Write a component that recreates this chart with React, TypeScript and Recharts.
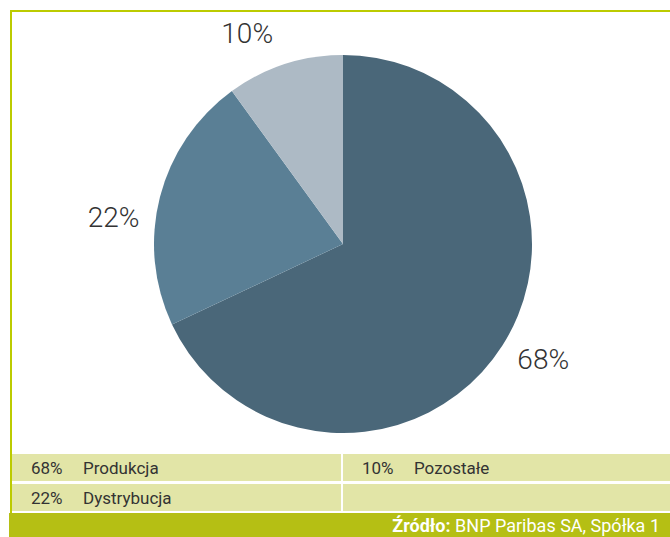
import { PieChart, Pie, Cell } from 'recharts';

const categories = ['Produkcja', 'Dystrybucja', 'Pozostałe'];
const shares = [68, 22, 10];
const sliceColors = ['#4a6779', '#5a7f95', '#adbac5'];

const data = categories.map((name, i) => ({ name, value: shares[i] }));

// angular nudges so labels sit where the original placed them
const labelNudge = [2.5, 7.8, 6.5];
const RAD = Math.PI / 180;

const renderLabel = (props: any) => {
  const { cx, cy, midAngle, index, value } = props;
  const a = (midAngle + labelNudge[index]) * RAD;
  const r = 231;
  const x = cx + r * Math.cos(a);
  const y = cy - r * Math.sin(a);
  return (
    <text
      x={x}
      y={y}
      textAnchor="middle"
      dominantBaseline="central"
      fill="#333"
      style={{ fontFamily: 'Roboto', fontWeight: 300, fontSize: 28 }}
    >
      {`${value}%`}
    </text>
  );
};

const legendFont = "'Roboto', sans-serif";

const LegendCell = ({ item, left, width }: { item?: { name: string; value: number }; left: number; width: number }) => (
  <div
    style={{
      position: 'absolute',
      left,
      width,
      top: 0,
      bottom: 0,
      background: '#e2e5a7',
      display: 'flex',
      alignItems: 'center',
      fontFamily: legendFont,
      fontSize: 17,
      color: '#333',
    }}
  >
    {item && (
      <>
        <span style={{ position: 'absolute', left: 19 }}>{item.value}%</span>
        <span style={{ position: 'absolute', left: 71 }}>{item.name}</span>
      </>
    )}
  </div>
);

const App = () => {
  return (
    <div style={{ position: 'absolute', left: 0, top: 0, width: 670, height: 537, background: '#fff', overflow: 'hidden' }}>
      {/* frame lines */}
      <div style={{ position: 'absolute', left: 10, top: 10, width: 660, height: 2, background: '#bccb00' }} />
      <div style={{ position: 'absolute', left: 10, top: 10, width: 2, height: 504, background: '#bccb00' }} />

      <div style={{ position: 'absolute', left: 0, top: 0 }}>
        <PieChart width={670} height={445} margin={{ top: 0, right: 0, bottom: 0, left: 0 }}>
          <Pie
            data={data}
            dataKey="value"
            nameKey="name"
            cx={343}
            cy={244}
            outerRadius={189}
            startAngle={90}
            endAngle={-270}
            stroke="none"
            label={renderLabel}
            labelLine={false}
            isAnimationActive={false}
          >
            {data.map((entry, index) => (
              <Cell key={`cell-${index}`} fill={sliceColors[index]} />
            ))}
          </Pie>
        </PieChart>
      </div>

      {/* legend table */}
      <div style={{ position: 'absolute', left: 12, top: 454, width: 658, height: 27 }}>
        <LegendCell item={data[0]} left={0} width={329} />
        <LegendCell item={data[2]} left={331} width={327} />
      </div>
      <div style={{ position: 'absolute', left: 12, top: 484, width: 658, height: 27 }}>
        <LegendCell item={data[1]} left={0} width={329} />
        <LegendCell left={331} width={327} />
      </div>

      {/* source bar */}
      <div
        style={{
          position: 'absolute',
          left: 9,
          top: 513,
          width: 661,
          height: 24,
          background: '#b5bf14',
          color: '#fff',
          fontFamily: legendFont,
          fontSize: 18,
          display: 'flex',
          alignItems: 'center',
          justifyContent: 'flex-end',
          paddingRight: 10,
          boxSizing: 'border-box',
        }}
      >
        <span style={{ fontWeight: 700 }}>Źródło:</span>
        <span>&nbsp;BNP Paribas SA, Spółka 1</span>
      </div>
    </div>
  );
};

export default App;
